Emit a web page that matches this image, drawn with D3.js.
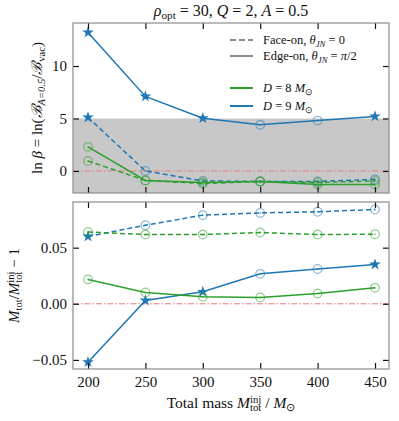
<!DOCTYPE html>
<html>
<head>
<meta charset="utf-8">
<script src="https://cdn.jsdelivr.net/npm/d3@7"></script>
<style>
  body { margin: 0; background: #fff; }
  svg text, svg tspan { font-family: 'Liberation Serif', serif !important; fill: #111; }
  .tick text { font-size: 15px; }
</style>
</head>
<body>
<script>
// data
var masses = [200, 250, 300, 350, 400, 450];
var lnB_D9_edge = [13.2, 7.1, 5.03, 4.4, 4.8, 5.2];
var lnB_D9_face = [5.1, 0.0, -0.95, -1.0, -1.0, -0.8];
var lnB_D8_edge = [2.3, -0.9, -1.1, -1.0, -1.3, -1.3];
var lnB_D8_face = [0.95, -0.9, -1.2, -1.0, -1.1, -0.95];
var dM_D9_edge = [-0.052, 0.003, 0.0107, 0.0267, 0.031, 0.035];
var dM_D9_face = [0.060, 0.070, 0.079, 0.081, 0.082, 0.084];
var dM_D8_edge = [0.0217, 0.0101, 0.0062, 0.0057, 0.0092, 0.0142];
var dM_D8_face = [0.064, 0.0617, 0.0617, 0.0635, 0.0617, 0.062];
var xTicks = [200, 250, 300, 350, 400, 450];
var topTicks = [0, 5, 10];
var botTicks = [-0.05, 0, 0.05];
var threshold = 5;

var blue = '#1f77b4', green = '#2ca02c';
var w = 399, h = 421;
var left = 73, right = 389;
var top1 = 23, bot1 = 193, top2 = 202, bot2 = 369;

var svg = d3.select('body').append('svg').attr('width', w).attr('height', h);

var x = d3.scaleLinear().domain([200, 450]).range([88, 375]);
var yTop = d3.scaleLinear().domain([-2.1, 14.1]).range([bot1, top1]);
var yBot = d3.scaleLinear().domain([-0.0581, 0.0907]).range([bot2, top2]);

var series = [
  {lnB: lnB_D9_face, dM: dM_D9_face, color: blue, dash: '5,3'},
  {lnB: lnB_D9_edge, dM: dM_D9_edge, color: blue, dash: null},
  {lnB: lnB_D8_face, dM: dM_D8_face, color: green, dash: '5,3'},
  {lnB: lnB_D8_edge, dM: dM_D8_edge, color: green, dash: null}
];

function panel(y, y0, y1, ticks, fmt, key) {
  var g = svg.append('g');
  var clipId = 'clip' + key;
  svg.append('clipPath').attr('id', clipId).append('rect')
    .attr('x', left).attr('y', y1).attr('width', right - left).attr('height', y0 - y1);

  var inner = g.append('g').attr('clip-path', 'url(#' + clipId + ')');
  if (key == 'top') {
    inner.append('rect').attr('x', left).attr('width', right - left)
      .attr('y', y(threshold)).attr('height', y0 - y(threshold)).attr('fill', '#c8c8c8');
  }
  inner.append('line').attr('x1', left).attr('x2', right).attr('y1', y(0)).attr('y2', y(0))
    .attr('stroke', '#e37d7d').attr('stroke-width', 1).attr('stroke-dasharray', '6,2,1.5,2');

  series.forEach(function(s) {
    var vals = s[key == 'top' ? 'lnB' : 'dM'];
    var pts = masses.map(function(m, i) { return {m: m, v: vals[i], star: s.lnB[i] > threshold}; });
    var line = d3.line().x(function(d) { return x(d.m); }).y(function(d) { return y(d.v); });
    inner.append('path').datum(pts).attr('d', line).attr('fill', 'none')
      .attr('stroke', s.color).attr('stroke-width', 1.5)
      .attr('stroke-dasharray', s.dash);
    pts.forEach(function(d) {
      if (d.star) {
        inner.append('path').attr('d', d3.symbol().type(d3.symbolStar).size(42)())
          .attr('transform', 'translate(' + x(d.m) + ',' + y(d.v) + ')')
          .attr('fill', s.color);
      } else {
        inner.append('circle').attr('cx', x(d.m)).attr('cy', y(d.v)).attr('r', 4.3)
          .attr('fill', 'none').attr('stroke', s.color).attr('stroke-opacity', 0.5).attr('stroke-width', 1.3);
        inner.append('circle').attr('cx', x(d.m)).attr('cy', y(d.v)).attr('r', 0.9)
          .attr('fill', s.color).attr('fill-opacity', 0.6);
      }
    });
  });

  // axes, ticks inward on all sides
  g.append('g').attr('transform', 'translate(' + left + ',0)')
    .call(d3.axisLeft(y).tickValues(ticks).tickFormat(fmt).tickSizeInner(-6).tickSizeOuter(0).tickPadding(6));
  g.append('g').attr('transform', 'translate(' + right + ',0)')
    .call(d3.axisRight(y).tickValues(ticks).tickFormat('').tickSizeInner(-6).tickSizeOuter(0));
  g.append('g').attr('transform', 'translate(0,' + y1 + ')')
    .call(d3.axisTop(x).tickValues(xTicks).tickFormat('').tickSizeInner(-6).tickSizeOuter(0));
  g.append('g').attr('transform', 'translate(0,' + y0 + ')')
    .call(d3.axisBottom(x).tickValues(xTicks).tickFormat(key == 'top' ? '' : d3.format('d'))
      .tickSizeInner(-6).tickSizeOuter(0).tickPadding(7));
  g.selectAll('.domain').remove();
  g.selectAll('.tick line').attr('stroke', '#111').attr('stroke-width', 1.2);
  g.selectAll('g').attr('font-family', null).attr('font-size', null);

  g.append('rect').attr('x', left).attr('y', y1).attr('width', right - left).attr('height', y0 - y1)
    .attr('fill', 'none').attr('stroke', '#8c8c8c').attr('stroke-width', 1.2);
}

panel(yTop, bot1, top1, topTicks, d3.format('d'), 'top');
panel(yBot, bot2, top2, botTicks, d3.format('.2f'), 'bot');

// math text helper: parts = [text, style], style: '' | 'i' | 'sub' | 'subi' | 'stack'
function mathText(sel, parts, size) {
  var t = sel.attr('font-size', size);
  var lastSubWidth = 0;
  parts.forEach(function(p) {
    var txt = p[0], st = p[1] || '';
    var ts = t.append('tspan').text(txt);
    if (st == 'i') ts.attr('font-style', 'italic');
    if (st == 'sub' || st == 'subi') {
      ts.attr('font-size', size * 0.7).attr('baseline-shift', '-28%')
        .attr('font-style', st == 'subi' ? 'italic' : 'normal');
      lastSubWidth = ts.node().getComputedTextLength();
    }
    if (st == 'stack') {
      ts.attr('font-size', size * 0.7).attr('baseline-shift', '45%').attr('font-style', 'normal')
        .attr('dx', -lastSubWidth);
    }
  });
  return t;
}

// title
mathText(svg.append('text').attr('x', 231).attr('y', 16).attr('text-anchor', 'middle'),
  [['ρ', 'i'], ['opt', 'sub'], [' = 30,  '], ['Q', 'i'], [' = 2,  '], ['A', 'i'], [' = 0.5']], 16);

// x label
mathText(svg.append('text').attr('x', 231).attr('y', 408).attr('text-anchor', 'middle'),
  [['Total mass '], ['M', 'i'], ['tot', 'sub'], ['inj', 'stack'], [' / '], ['M', 'i'], ['⊙', 'sub']], 15.5);

// y labels
mathText(svg.append('text').attr('transform', 'translate(42,' + ((top1 + bot1) / 2) + ') rotate(-90)')
  .attr('text-anchor', 'middle'),
  [['ln '], ['β', 'i'], [' = ln('], ['ℬ', 'i'], ['A=0.5', 'subi'], ['/'], ['ℬ', 'i'], ['vac', 'sub'], [')']], 15);
mathText(svg.append('text').attr('transform', 'translate(19,' + ((top2 + bot2) / 2) + ') rotate(-90)')
  .attr('text-anchor', 'middle'),
  [['M', 'i'], ['tot', 'sub'], ['/'], ['M', 'i'], ['tot', 'sub'], ['inj', 'stack'], [' − 1']], 15);

// legend
var legend = [
  {color: '#8c8c8c', dash: '6,3', y: 40, parts: [['Face-on, '], ['θ', 'i'], ['JN', 'subi'], [' = 0']]},
  {color: '#8c8c8c', dash: null, y: 56, parts: [['Edge-on, '], ['θ', 'i'], ['JN', 'subi'], [' = '], ['π', 'i'], ['/2']]},
  {color: green, dash: null, y: 88, parts: [['D', 'i'], [' = 8 '], ['M', 'i'], ['⊙', 'sub']]},
  {color: blue, dash: null, y: 106, parts: [['D', 'i'], [' = 9 '], ['M', 'i'], ['⊙', 'sub']]}
];
legend.forEach(function(l) {
  svg.append('line').attr('x1', 230).attr('x2', 253).attr('y1', l.y).attr('y2', l.y)
    .attr('stroke', l.color).attr('stroke-width', 2).attr('stroke-dasharray', l.dash);
  mathText(svg.append('text').attr('x', 263).attr('y', l.y + 4), l.parts, 12.5);
});
</script>
</body>
</html>
